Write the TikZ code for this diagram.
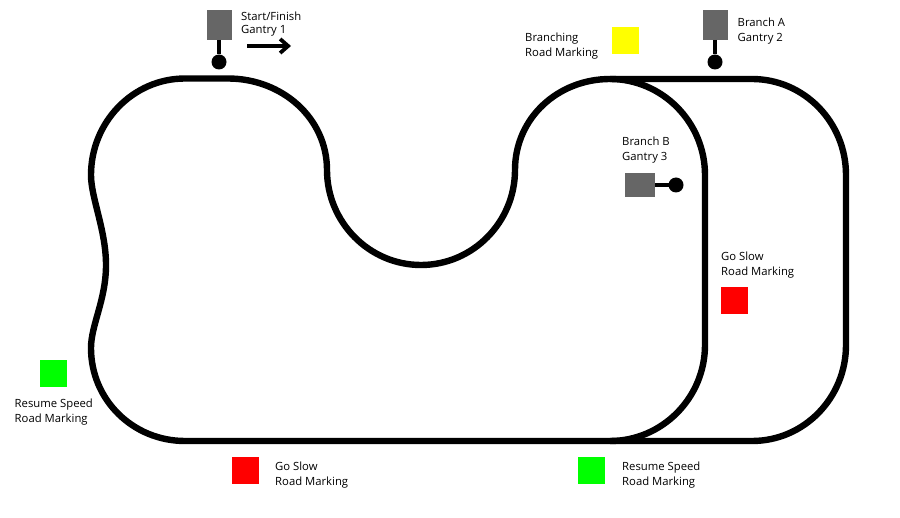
\documentclass[tikz,border=0pt]{standalone}
\usepackage{fontspec}
\setmainfont{Open Sans}
\usetikzlibrary{arrows.meta}
\definecolor{markyellow}{RGB}{255,255,0}
\definecolor{markred}{RGB}{255,0,0}
\definecolor{markgreen}{RGB}{0,255,0}
\definecolor{gantrygrey}{RGB}{102,102,102}
\tikzset{
  track/.style={draw=black,line width=6.4pt,line join=round},
  gantrybox/.style={draw=none,fill=gantrygrey,minimum width=#1,inner sep=0pt,outer sep=0pt},
  stem/.style={draw=black,line width=4.6pt},
  dot/.style={circle,fill=black,minimum size=15pt,inner sep=0pt,outer sep=0pt},
  mark box/.style={fill=#1,minimum size=27pt,inner sep=0pt,outer sep=0pt},
  lbl/.style={anchor=west,align=left,inner sep=0pt,font=\fontsize{11.3pt}{15pt}\selectfont,text=black}
}
\begin{document}
\begin{tikzpicture}[x=1pt,y=-1pt]
\useasboundingbox (0,0) rectangle (900,518);
% main track
\draw[track] (610,79) -- (752,79)
  .. controls (804,79) and (846,122) .. (846,175)
  -- (846,345)
  .. controls (846,398) and (804,441) .. (752,441)
  -- (185,441)
  .. controls (133,441) and (91,400) .. (91,348)
  .. controls (91,325) and (106,300) .. (106,265)
  .. controls (106,230) and (91,198) .. (91,175)
  .. controls (91,122) and (133,78.5) .. (185,78.5)
  -- (228,78.5)
  .. controls (282,78.5) and (327,118) .. (327,170)
  .. controls (327,222) and (369,265) .. (421,265)
  .. controls (473,265) and (515,222) .. (515,170)
  .. controls (515,118) and (558,79) .. (610,79) -- cycle;
% inner branch
\draw[track] (610,79)
  .. controls (662,79) and (705,122) .. (705,175)
  -- (705,345)
  .. controls (705,398) and (662,441) .. (610,441);
% gantries
\node[gantrybox=25pt,minimum height=30pt] (g1) at (219.5,25) {};
\node[dot] (d1) at (219,62) {};
\draw[stem] (g1.south -| d1) -- (d1);
\node[gantrybox=25pt,minimum height=30pt] (g2) at (715,25) {};
\node[dot] (d2) at (715,62) {};
\draw[stem] (g2.south -| d2) -- (d2);
\node[gantrybox=30pt,minimum height=24pt] (g3) at (640,185) {};
\node[dot] (d3) at (676,185) {};
\draw[stem] (g3.east) -- (d3);
% direction arrow
\coordinate (a1) at (247,46);
\coordinate (a2) at (291,46);
\draw[draw=black,line width=4pt,-{Straight Barb[length=8pt,width=14pt,line width=3.8pt]}] (a1) -- (a2);
% road markings
\node[mark box=markyellow] (m1) at (625,40.5) {};
\node[mark box=markred] (m2) at (734,300.5) {};
\node[mark box=markred] (m3) at (245.5,470.5) {};
\node[mark box=markgreen] (m4) at (53.5,373.5) {};
\node[mark box=markgreen] (m5) at (591.5,470.5) {};
% labels
\node[lbl,font=\fontsize{11.3pt}{13pt}\selectfont] (t1) at (241,24) {Start/Finish\\Gantry 1};
\node[lbl] (t2) at (737.5,31.5) {Branch A\\Gantry 2};
\node[lbl] (t3) at (525,46) {Branching\\Road Marking};
\node[lbl] (t4) at (622,150.5) {Branch B\\Gantry 3};
\node[lbl] (t5) at (721,265) {Go Slow\\Road Marking};
\node[lbl] (t6) at (14.5,412) {Resume Speed\\Road Marking};
\node[lbl] (t7) at (275,475) {Go Slow\\Road Marking};
\node[lbl] (t8) at (622,475) {Resume Speed\\Road Marking};
\end{tikzpicture}
\end{document}
